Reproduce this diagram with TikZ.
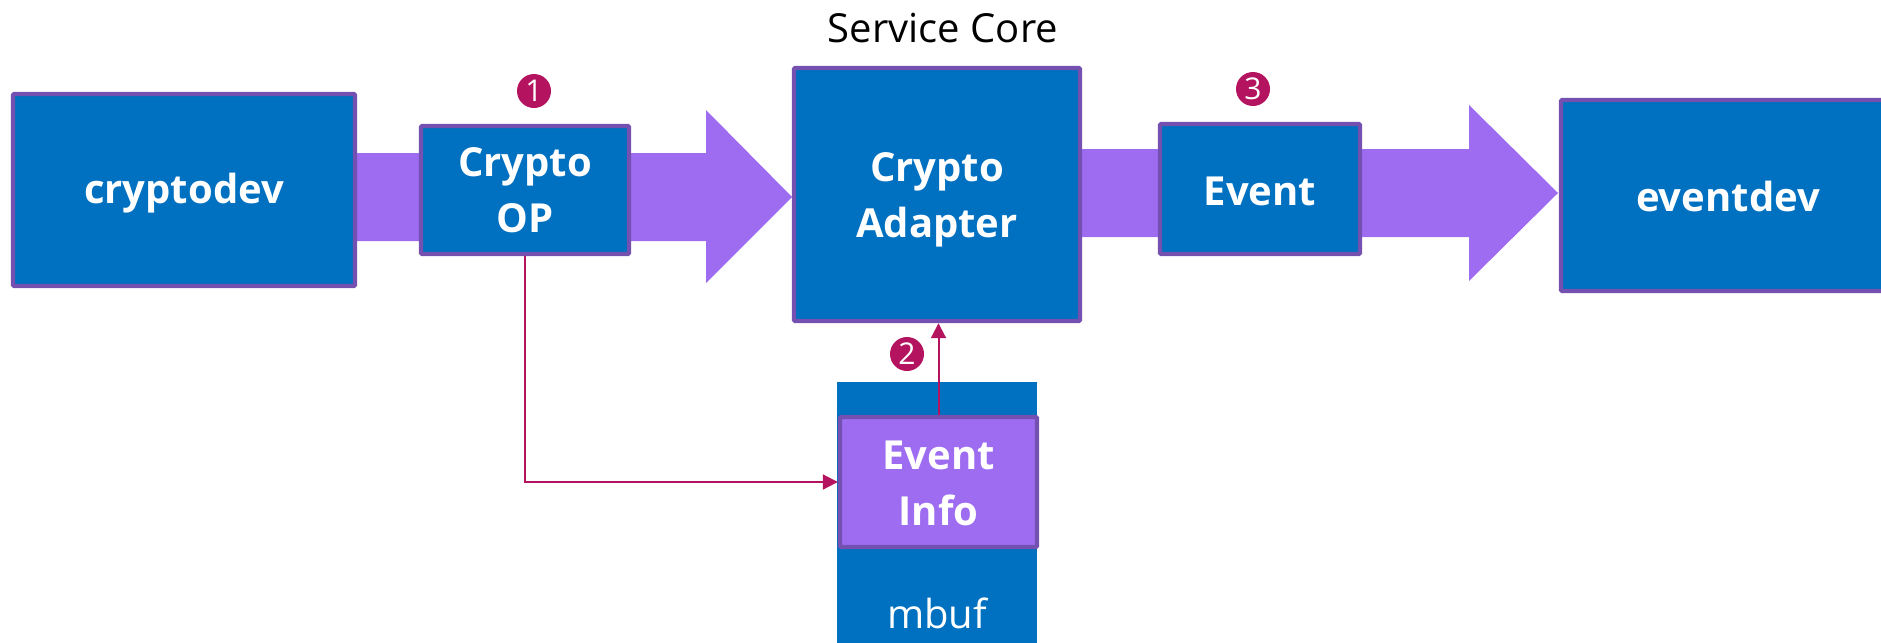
\documentclass[tikz,border=0pt]{standalone}
\usepackage{fontspec}
\setmainfont{Open Sans}
\usetikzlibrary{arrows.meta,calc}
\definecolor{blu}{HTML}{0070C0}
\definecolor{bord}{HTML}{7451B0}
\definecolor{lav}{HTML}{9D6CF0}
\definecolor{mag}{HTML}{B4135F}
\tikzset{
  box/.style={draw=bord, fill=blu, line width=2.2pt, rounded corners=0.6pt, inner sep=0pt},
  infobox/.style={box, fill=lav},
  boxtext/.style={text=white, font=\bfseries\fontsize{20}{28}\selectfont, align=center, inner sep=0pt},
  band/.style={fill=lav},
  conn/.style={draw=mag, line width=1pt, -{Triangle[length=7.5pt,width=7.5pt]}},
  num/.style={circle, fill=mag, text=white, minimum size=17pt, inner sep=0pt,
    font=\fontsize{15}{15}\selectfont},
  plain/.style={font=\fontsize{20}{24}\selectfont, inner sep=0pt}
}
\begin{document}
\begin{tikzpicture}[x=0.5pt,y=-0.5pt]
\useasboundingbox (0,0) rectangle (1881,643);
% bands
\fill[band] (300,153) -- (706,153) -- (706,110) -- (792,197) -- (706,283) -- (706,241) -- (300,241) -- cycle;
\fill[band] (1050,149) -- (1469,149) -- (1469,105) -- (1558,193) -- (1469,281) -- (1469,237) -- (1050,237) -- cycle;
% mbuf
\fill[blu] (837,382) rectangle (1037,650);
\node[plain, text=white] (mbuf) at (937,613) {mbuf};
% boxes
\node[box, minimum width=171pt, minimum height=96pt] (cdev) at (184,190) {};
\node[boxtext] (cdevt) at ([yshift=-1.5pt]cdev.center) {cryptodev};
\node[box, minimum width=104pt, minimum height=64pt] (cop) at (525,190) {};
\node[boxtext] (copt) at (cop.center) {Crypto\\OP};
\node[box, minimum width=143pt, minimum height=126.5pt] (adapter) at (937,194.5) {};
\node[boxtext] (adaptert) at ([yshift=-2.5pt]adapter.center) {Crypto\\Adapter};
\node[box, minimum width=100pt, minimum height=65pt] (event) at (1260,189) {};
\node[boxtext] (eventt) at ([yshift=-1pt]event.center) {Event};
\node[box, minimum width=167pt, minimum height=95.5pt] (edev) at (1728,195.5) {};
\node[boxtext] (edevt) at ([yshift=-0.5pt]edev.center) {eventdev};
\node[infobox, minimum width=98.5pt, minimum height=65pt] (einfo) at (938.5,482) {};
\node[boxtext] (einfot) at ([yshift=-0.5pt]einfo.center) {Event\\Info};
% title
\node[plain] (title) at (943,28) {Service Core};
% connectors
\draw[conn] (cop.south) |- (einfo.west);
\draw[conn] (einfo.north) -- (einfo.north |- adapter.south);
% numbers
\node[num] (n1) at (534,91) {1};
\node[num] (n2) at (907,354) {2};
\node[num] (n3) at (1253,89) {3};
\end{tikzpicture}
\end{document}
